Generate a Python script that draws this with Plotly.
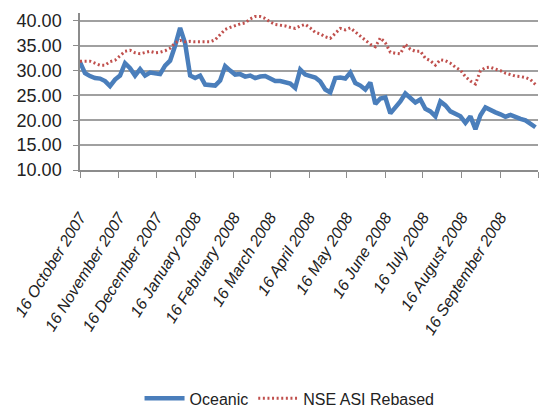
import pandas as pd
import plotly.graph_objects as go

# Sample dates (every 4 days from 16 Oct 2007)
dates = pd.date_range("2007-10-16", periods=92, freq="4D")

oceanic = [
    31.7, 29.5, 28.9, 28.5, 28.4, 27.9, 26.9, 28.2, 29.0, 31.5,
    30.5, 29.0, 30.3, 29.0, 29.6, 29.5, 29.3, 31.0, 32.0, 35.0,
    38.6, 35.5, 29.0, 28.5, 29.0, 27.2, 27.0, 27.0, 28.0, 30.9,
    30.0, 29.2, 29.3, 28.8, 29.0, 28.5, 28.8, 28.9, 28.4, 27.9,
    27.9, 27.6, 27.4, 26.5, 30.2, 29.2, 29.0, 28.6, 27.8, 26.2,
    25.6, 28.5, 28.6, 28.4, 29.6, 27.5, 27.0, 26.2, 27.6, 23.3,
    24.4, 24.6, 21.4, 22.5, 23.8, 25.4, 24.5, 23.6, 24.2, 22.3,
    21.8, 20.8, 23.8, 23.0, 21.8, 21.2, 20.8, 19.5, 20.8, 18.2,
    21.0, 22.6, 22.0, 21.6, 21.2, 20.7, 21.1, 20.6, 20.3, 20.0,
    19.4, 18.6,
]

nse_asi_rebased = [
    31.9, 31.9, 31.9, 31.5, 31.1, 31.1, 31.8, 32.1, 33.1, 33.9,
    34.1, 33.6, 33.4, 33.7, 33.9, 33.6, 33.7, 34.0, 34.5, 35.6,
    36.1, 35.8, 35.9, 35.8, 35.8, 35.9, 35.8, 36.2, 37.3, 38.3,
    38.7, 39.1, 39.4, 39.6, 40.4, 40.9, 40.9, 40.5, 39.8, 39.3,
    39.2, 39.0, 38.7, 38.5, 39.0, 39.3, 38.6, 37.7, 37.4, 36.8,
    36.5, 37.5, 38.5, 38.2, 38.6, 37.8, 37.0, 36.1, 35.3, 34.8,
    36.6, 35.6, 33.7, 33.5, 33.4, 35.3, 34.3, 33.9, 33.9, 32.5,
    32.0, 31.1, 32.2, 32.0, 31.5, 30.7, 30.1, 28.8, 27.9, 27.3,
    30.0, 30.6, 30.7, 30.3, 30.0, 29.5, 29.2, 28.9, 28.8, 28.6,
    28.2, 27.2,
]

tick_dates = [
    "2007-10-16", "2007-11-16", "2007-12-16", "2008-01-16", "2008-02-16",
    "2008-03-16", "2008-04-16", "2008-05-16", "2008-06-16", "2008-07-16",
    "2008-08-16", "2008-09-16", "2008-10-16",
]
tick_labels = [
    "16 October 2007", "16 November 2007", "16 December 2007",
    "16 January 2008", "16 February 2008", "16 March 2008", "16 April 2008",
    "16 May 2008", "16 June 2008", "16 July 2008", "16 August 2008",
    "16 September 2008", "",
]
y_ticks = [10, 15, 20, 25, 30, 35, 40]

FONT = "Liberation Sans, Arial, sans-serif"
GRID = "#a0a0a0"
AXIS = "#8c8c8c"
TXT = "#222222"

fig = go.Figure()
fig.add_trace(go.Scatter(
    x=dates, y=oceanic, name="Oceanic", mode="lines",
    line=dict(color="#4a7ebb", width=4.5),
))
fig.add_trace(go.Scatter(
    x=dates, y=nse_asi_rebased, name="NSE ASI Rebased", mode="lines",
    line=dict(color="#c0504d", width=3, dash="2px,2.6px"),
))

fig.update_layout(
    width=543, height=410,
    margin=dict(l=80, r=5, t=13, b=240, autoexpand=False),
    paper_bgcolor="white", plot_bgcolor="white",
    font=dict(family=FONT, color=TXT, size=17),
    showlegend=True,
    legend=dict(
        orientation="h", x=0.13, xanchor="left", y=-1.455, yanchor="middle",
        font=dict(family=FONT, size=16, color=TXT),
        itemwidth=40, tracegroupgap=0, bgcolor="rgba(0,0,0,0)",
    ),
)

fig.update_xaxes(
    type="date", range=["2007-10-16", "2008-10-16"],
    tickmode="array", tickvals=tick_dates, ticktext=tick_labels,
    tickangle=-58, ticks="outside", ticklen=6, tickcolor=AXIS, tickwidth=1,
    showline=True, linecolor=AXIS, linewidth=1.5,
    showgrid=False, zeroline=False, automargin=False,
    ticklabeloverflow="allow", ticklabelstandoff=24,
    tickfont=dict(family=FONT, size=16, style="italic", color=TXT),
)
fig.update_yaxes(
    range=[10, 41.6], tickmode="array", tickvals=y_ticks,
    ticktext=[f"{v:.2f}" for v in y_ticks],
    ticks="outside", ticklen=5, tickcolor=AXIS, tickwidth=1,
    showline=True, linecolor=AXIS, linewidth=1.5,
    showgrid=True, gridcolor=GRID, gridwidth=1.5, zeroline=False,
    automargin=False, ticklabelstandoff=8,
    tickfont=dict(family=FONT, size=18, color=TXT),
)

fig.write_html(
    "out.html",
    config={"displayModeBar": False},
    post_script="document.body.style.margin='0';document.body.style.overflow='hidden';",
)
